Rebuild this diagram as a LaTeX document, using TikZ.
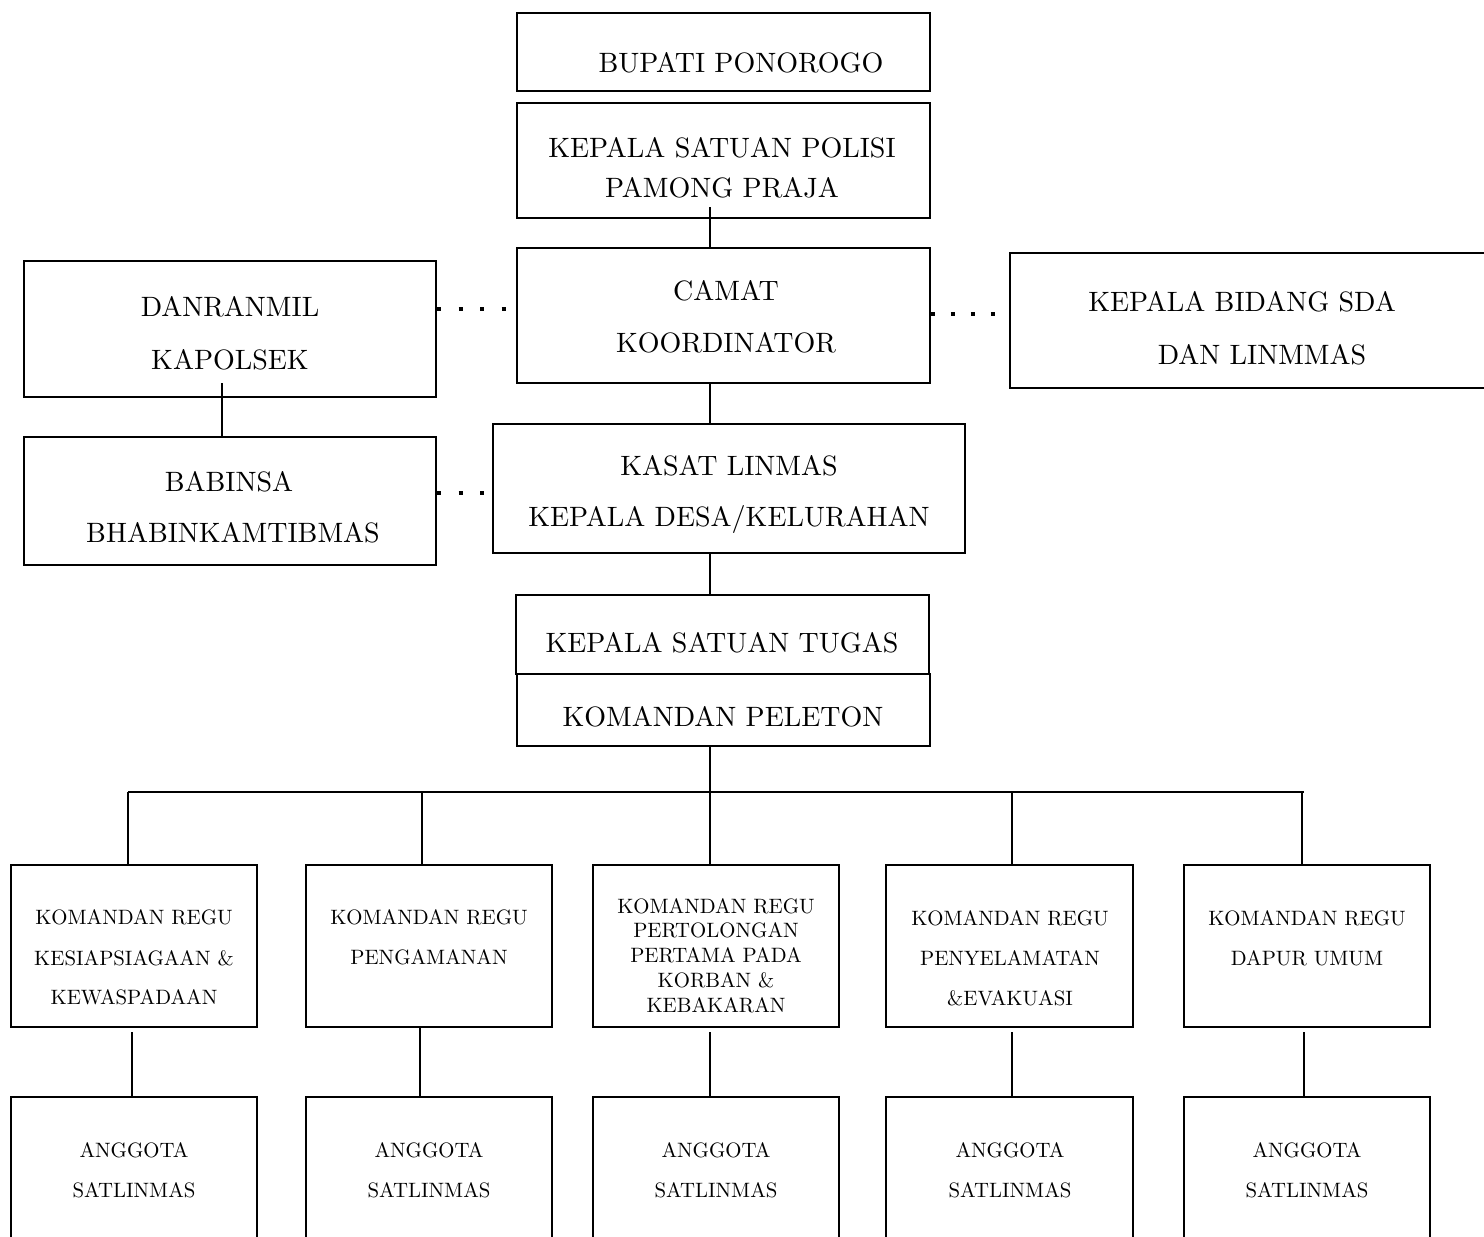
\documentclass[tikz,border=0pt]{standalone}
\usepackage{fontspec}
\newfontfamily\lmten{lmroman10-regular.otf}
\begin{document}
\begin{tikzpicture}[x=1pt,y=-1pt,
  box/.style={draw, line width=1.8pt, inner sep=0pt, rectangle},
  conn/.style={line width=1.6pt},
  dotsq/.style={line width=4.2pt, dash pattern=on 4.2pt off 17.4pt},
  big/.style={font=\lmten\fontsize{28}{34}\selectfont, inner sep=0pt, anchor=base},
  small/.style={font=\lmten\fontsize{20.8}{25}\selectfont, inner sep=0pt, anchor=base}]
\useasboundingbox (0,0) rectangle (1484,1237);
% boxes
\node[box, minimum width=413pt, minimum height=78pt] (bupati) at (723.5,52) {};
\node[box, minimum width=413pt, minimum height=115pt] (kspp) at (723.5,160.5) {};
\node[box, minimum width=413pt, minimum height=135pt] (camat) at (723.5,315.5) {};
\node[box, minimum width=412pt, minimum height=136pt] (danr) at (230,329) {};
\node[box, minimum width=412pt, minimum height=128pt] (babinsa) at (230,501) {};
\node[box, minimum width=485pt, minimum height=135pt] (kb) at (1252.5,320.5) {};
\node[box, minimum width=472pt, minimum height=129pt] (kasat) at (729,488.5) {};
\node[box, line width=2.6pt, minimum width=413pt, minimum height=79pt] (kst) at (722.5,634.5) {};
\node[box, minimum width=413pt, minimum height=72pt] (kp) at (723.5,710) {};
\node[box, minimum width=246pt, minimum height=162pt] (r1) at (134,946) {};
\node[box, minimum width=246pt, minimum height=162pt] (r2) at (429,946) {};
\node[box, minimum width=246pt, minimum height=162pt] (r3) at (716,946) {};
\node[box, minimum width=247pt, minimum height=162pt] (r4) at (1009.5,946) {};
\node[box, minimum width=246pt, minimum height=162pt] (r5) at (1307,946) {};
\node[box, minimum width=246pt, minimum height=163pt] (a1) at (134,1178.5) {};
\node[box, minimum width=246pt, minimum height=163pt] (a2) at (429,1178.5) {};
\node[box, minimum width=246pt, minimum height=163pt] (a3) at (716,1178.5) {};
\node[box, minimum width=247pt, minimum height=163pt] (a4) at (1009.5,1178.5) {};
\node[box, minimum width=246pt, minimum height=163pt] (a5) at (1307,1178.5) {};
% texts
\node[big] (t1) at (741,72.6) {BUPATI PONOROGO};
\node[big] (t2) at (722,157.6) {KEPALA SATUAN POLISI};
\node[big] (t3) at (722,197.6) {PAMONG PRAJA};
\node[big] (t4) at (726,300.6) {CAMAT};
\node[big] (t5) at (726,352.6) {KOORDINATOR};
\node[big] (t6) at (230,316.6) {DANRANMIL};
\node[big] (t7) at (230,369.6) {KAPOLSEK};
\node[big] (t8) at (229,491.6) {BABINSA};
\node[big] (t9) at (233,542.6) {BHABINKAMTIBMAS};
\node[big] (t10) at (1242,311.6) {KEPALA BIDANG SDA};
\node[big] (t11) at (1262,364.6) {DAN LINMMAS};
\node[big] (t12) at (729,475.6) {KASAT LINMAS};
\node[big] (t13) at (729,526.6) {KEPALA DESA/KELURAHAN};
\node[big] (t14) at (722,652.6) {KEPALA SATUAN TUGAS};
\node[big] (t15) at (723,726.6) {KOMANDAN PELETON};
\node[small] (u1) at (134,924.1) {KOMANDAN REGU};
\node[small] (u2) at (134,965.1) {KESIAPSIAGAAN \&};
\node[small] (u3) at (134,1004.1) {KEWASPADAAN};
\node[small] (u4) at (429,924.1) {KOMANDAN REGU};
\node[small] (u5) at (429,964.1) {PENGAMANAN};
\node[small] (u6) at (716,913.1) {KOMANDAN REGU};
\node[small] (u7) at (716,937.1) {PERTOLONGAN};
\node[small] (u8) at (716,962.1) {PERTAMA PADA};
\node[small] (u9) at (716,987.1) {KORBAN \&};
\node[small] (u10) at (716,1012.1) {KEBAKARAN};
\node[small] (u11) at (1010,925.1) {KOMANDAN REGU};
\node[small] (u12) at (1010,965.1) {PENYELAMATAN};
\node[small] (u13) at (1010,1005.1) {\&EVAKUASI};
\node[small] (u14) at (1307,925.1) {KOMANDAN REGU};
\node[small] (u15) at (1307,965.1) {DAPUR UMUM};
\foreach \c/\n in {134/1,429/2,716/3,1010/4,1307/5}{
  \node[small] (g\n) at (\c,1157.1) {ANGGOTA};
  \node[small] (s\n) at (\c,1197.1) {SATLINMAS};
}
% connectors
\coordinate (sp) at (710,207);
\draw[conn] (sp) -- (sp |- camat.north);
\draw[conn] (camat.south -| sp) -- (kasat.north -| sp);
\draw[conn] (kasat.south -| sp) -- (kst.north -| sp);
\coordinate (bus) at (710,792);
\draw[conn] (kp.south -| sp) -- (bus);
\coordinate (busL) at (128,792);
\coordinate (busR) at (1304,792);
\draw[conn] (busL) -- (busR);
\coordinate (d1) at (128,792);
\coordinate (d2) at (422,792);
\coordinate (d3) at (710,792);
\coordinate (d4) at (1012,792);
\coordinate (d5) at (1302,792);
\draw[conn] (d1) -- (d1 |- r1.north);
\draw[conn] (d2) -- (d2 |- r2.north);
\draw[conn] (d3) -- (d3 |- r3.north);
\draw[conn] (d4) -- (d4 |- r4.north);
\draw[conn] (d5) -- (d5 |- r5.north);
\coordinate (l1) at (132,1032);
\coordinate (l2) at (420,1027);
\coordinate (l3) at (710,1032);
\coordinate (l4) at (1012,1032);
\coordinate (l5) at (1304,1032);
\draw[conn] (l1) -- (l1 |- a1.north);
\draw[conn] (l2) -- (l2 |- a2.north);
\draw[conn] (l3) -- (l3 |- a3.north);
\draw[conn] (l4) -- (l4 |- a4.north);
\draw[conn] (l5) -- (l5 |- a5.north);
\coordinate (dl) at (222,383);
\draw[conn] (dl) -- (dl |- babinsa.north);
% dotted links
\draw[dotsq] (danr.east |- 0,309) -- (camat.west |- 0,309);
\draw[dotsq, dash pattern=on 4.2pt off 15.8pt, shorten >=4pt] (camat.east |- 0,314) -- (kb.west |- 0,314);
\draw[dotsq] (babinsa.east |- 0,493) -- (kasat.west |- 0,493);
\end{tikzpicture}
\end{document}
